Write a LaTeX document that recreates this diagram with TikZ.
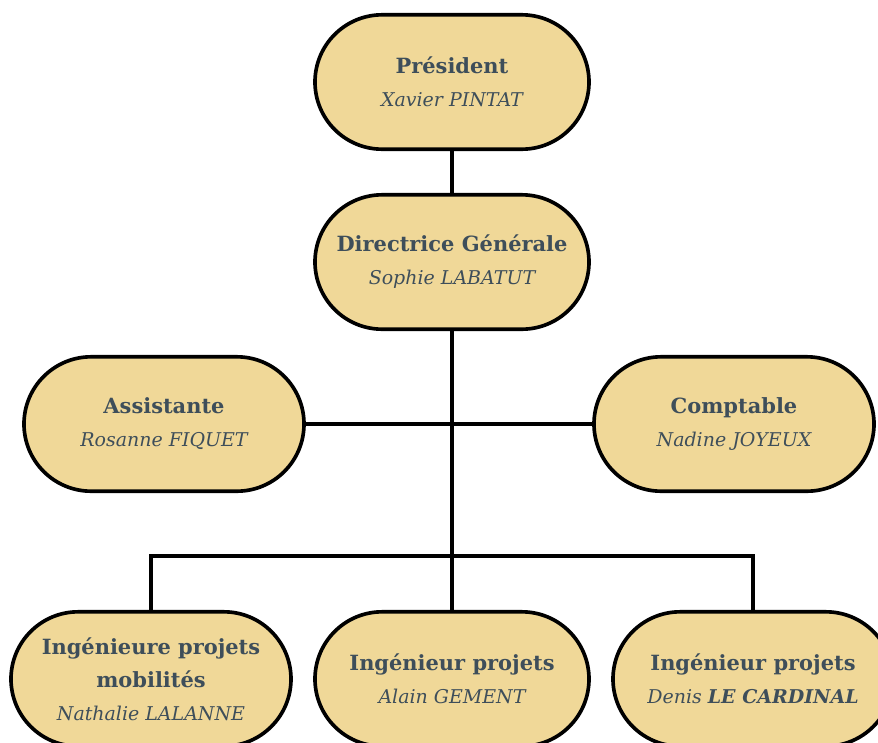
\documentclass[tikz,border=0pt]{standalone}
\usepackage{fontspec}
\setmainfont{DejaVu Serif}
\usepackage{xcolor}
\usepackage{tikz}
\usetikzlibrary{calc, positioning}
\definecolor{sable}{RGB}{240, 216, 152}
\definecolor{ardoise}{RGB}{62, 78, 90}
\tikzset{
    rolenode/.style = {draw, rectangle, rounded corners=1.68cm, fill=sable, line width=2.6pt,
      minimum width=6.85cm, minimum height=3.36cm, inner sep=0em, node distance=0em,
      text=ardoise, font=\fontsize{14.9}{23.5}\selectfont},
    widenode/.style = {rolenode, minimum width=7.0cm},
    link/.style = {black, line width=2.2pt},
    every text node part/.style={align=center}
}
\newcommand{\poste}[1]{\textbf{#1}}
\newcommand{\nom}[1]{{\fontsize{13.5}{23.5}\selectfont\itshape #1}}

\begin{document}
\begin{tikzpicture}
    \useasboundingbox (-11.3,2.05) rectangle (10.65,-16.5);
    \clip (-11.3,2.05) rectangle (10.65,-16.5);

    \node[rolenode, name=Pres] {\poste{Président}\\ \nom{Xavier PINTAT}};
    \node[rolenode, name=DG, below of=Pres, yshift=-4.5cm] {\poste{Directrice Générale}\\ \nom{Sophie LABATUT}};

    \node[widenode, name=Asst, below of=DG, xshift=-7.2cm, yshift=-4.05cm] {\poste{Assistante}\\ \nom{Rosanne FIQUET}};
    \node[widenode, name=Compta, below of=DG, xshift=7.05cm, yshift=-4.05cm] {\poste{Comptable}\\ \nom{Nadine JOYEUX}};

    \node[rolenode, name=IngMid, below of=DG, yshift=-10.425cm] {\poste{Ingénieur projets}\\ \nom{Alain GEMENT}};
    \node[widenode, name=IngMob, left of=IngMid, xshift=-7.525cm] {\poste{Ingénieure projets}\\ \poste{mobilités}\\ \nom{Nathalie LALANNE}};
    \node[widenode, name=IngCard, right of=IngMid, xshift=7.525cm] {\poste{Ingénieur projets}\\ \nom{Denis \textbf{LE CARDINAL}}};

    \draw[link] (Pres) -- (DG);
    \draw[link] (DG) -- (IngMid);
    \draw[link] (Asst) -- (Compta);
    \draw[link] (IngMob.north) -- ++(0,1.35) -| (IngCard.north);
\end{tikzpicture}
\end{document}
